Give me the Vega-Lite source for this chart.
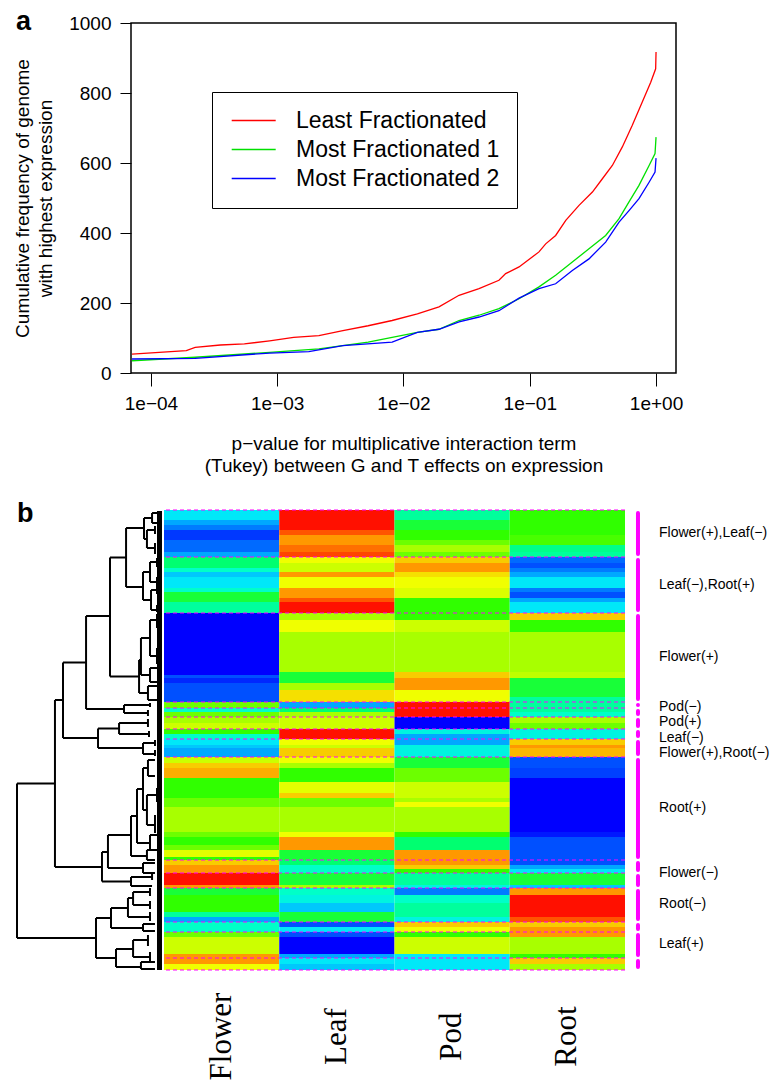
{
  "$schema": "https://vega.github.io/schema/vega-lite/v6.json",
  "background": "white",
  "padding": {"left": 12, "top": 7, "right": 0, "bottom": 0},
  "columns": 1,
  "align": "none",
  "bounds": "full",
  "spacing": 24,
  "config": {
    "view": {"stroke": null},
    "font": "Liberation Sans",
    "axis": {"grid": false, "domain": false, "tickColor": "black", "labelColor": "black", "titleColor": "black", "labelFont": "Liberation Sans", "titleFont": "Liberation Sans"}
  },
  "datasets": {
    "curves": [
      {"s": "Least Fractionated", "p": 0.0000708, "n": 54},
      {"s": "Least Fractionated", "p": 0.0001905, "n": 64},
      {"s": "Least Fractionated", "p": 0.0002239, "n": 73},
      {"s": "Least Fractionated", "p": 0.0003548, "n": 80},
      {"s": "Least Fractionated", "p": 0.0005495, "n": 83},
      {"s": "Least Fractionated", "p": 0.000871, "n": 92},
      {"s": "Least Fractionated", "p": 0.001349, "n": 102},
      {"s": "Least Fractionated", "p": 0.002138, "n": 107},
      {"s": "Least Fractionated", "p": 0.003311, "n": 121},
      {"s": "Least Fractionated", "p": 0.005248, "n": 135},
      {"s": "Least Fractionated", "p": 0.008128, "n": 150},
      {"s": "Least Fractionated", "p": 0.01288, "n": 169},
      {"s": "Least Fractionated", "p": 0.0191, "n": 189},
      {"s": "Least Fractionated", "p": 0.02754, "n": 222},
      {"s": "Least Fractionated", "p": 0.03963, "n": 241},
      {"s": "Least Fractionated", "p": 0.05702, "n": 265},
      {"s": "Least Fractionated", "p": 0.06442, "n": 284},
      {"s": "Least Fractionated", "p": 0.08222, "n": 303},
      {"s": "Least Fractionated", "p": 0.1183, "n": 346},
      {"s": "Least Fractionated", "p": 0.1337, "n": 369},
      {"s": "Least Fractionated", "p": 0.1603, "n": 393},
      {"s": "Least Fractionated", "p": 0.1928, "n": 436},
      {"s": "Least Fractionated", "p": 0.2455, "n": 479},
      {"s": "Least Fractionated", "p": 0.3133, "n": 517},
      {"s": "Least Fractionated", "p": 0.3758, "n": 555},
      {"s": "Least Fractionated", "p": 0.4508, "n": 593},
      {"s": "Least Fractionated", "p": 0.5408, "n": 646},
      {"s": "Least Fractionated", "p": 0.6486, "n": 708},
      {"s": "Least Fractionated", "p": 0.778, "n": 774},
      {"s": "Least Fractionated", "p": 0.9078, "n": 831},
      {"s": "Least Fractionated", "p": 0.9931, "n": 869},
      {"s": "Least Fractionated", "p": 1.0, "n": 917},
      {"s": "Most Fractionated 1", "p": 0.0000708, "n": 35},
      {"s": "Most Fractionated 1", "p": 0.0002239, "n": 45},
      {"s": "Most Fractionated 1", "p": 0.000871, "n": 59},
      {"s": "Most Fractionated 1", "p": 0.002138, "n": 69},
      {"s": "Most Fractionated 1", "p": 0.005248, "n": 88},
      {"s": "Most Fractionated 1", "p": 0.008128, "n": 102},
      {"s": "Most Fractionated 1", "p": 0.01288, "n": 116},
      {"s": "Most Fractionated 1", "p": 0.0191, "n": 125},
      {"s": "Most Fractionated 1", "p": 0.02754, "n": 150},
      {"s": "Most Fractionated 1", "p": 0.03963, "n": 165},
      {"s": "Most Fractionated 1", "p": 0.05702, "n": 184},
      {"s": "Most Fractionated 1", "p": 0.08222, "n": 212},
      {"s": "Most Fractionated 1", "p": 0.1183, "n": 246},
      {"s": "Most Fractionated 1", "p": 0.1603, "n": 279},
      {"s": "Most Fractionated 1", "p": 0.2173, "n": 317},
      {"s": "Most Fractionated 1", "p": 0.2944, "n": 355},
      {"s": "Most Fractionated 1", "p": 0.399, "n": 393},
      {"s": "Most Fractionated 1", "p": 0.5093, "n": 441},
      {"s": "Most Fractionated 1", "p": 0.6109, "n": 489},
      {"s": "Most Fractionated 1", "p": 0.7328, "n": 536},
      {"s": "Most Fractionated 1", "p": 0.881, "n": 593},
      {"s": "Most Fractionated 1", "p": 0.9817, "n": 627},
      {"s": "Most Fractionated 1", "p": 1.0, "n": 674},
      {"s": "Most Fractionated 2", "p": 0.0000708, "n": 40},
      {"s": "Most Fractionated 2", "p": 0.0002239, "n": 42},
      {"s": "Most Fractionated 2", "p": 0.000871, "n": 57},
      {"s": "Most Fractionated 2", "p": 0.001778, "n": 61},
      {"s": "Most Fractionated 2", "p": 0.003311, "n": 78},
      {"s": "Most Fractionated 2", "p": 0.008128, "n": 88},
      {"s": "Most Fractionated 2", "p": 0.01288, "n": 116},
      {"s": "Most Fractionated 2", "p": 0.0191, "n": 125},
      {"s": "Most Fractionated 2", "p": 0.02754, "n": 146},
      {"s": "Most Fractionated 2", "p": 0.03963, "n": 160},
      {"s": "Most Fractionated 2", "p": 0.05702, "n": 178},
      {"s": "Most Fractionated 2", "p": 0.08222, "n": 214},
      {"s": "Most Fractionated 2", "p": 0.1183, "n": 241},
      {"s": "Most Fractionated 2", "p": 0.1603, "n": 255},
      {"s": "Most Fractionated 2", "p": 0.2173, "n": 293},
      {"s": "Most Fractionated 2", "p": 0.2944, "n": 326},
      {"s": "Most Fractionated 2", "p": 0.399, "n": 374},
      {"s": "Most Fractionated 2", "p": 0.5093, "n": 431},
      {"s": "Most Fractionated 2", "p": 0.6109, "n": 464},
      {"s": "Most Fractionated 2", "p": 0.7328, "n": 498},
      {"s": "Most Fractionated 2", "p": 0.881, "n": 545},
      {"s": "Most Fractionated 2", "p": 0.9817, "n": 574},
      {"s": "Most Fractionated 2", "p": 1.0, "n": 614}
    ],
    "heat": [
      {"y0":0,"y1":10,"Flower":3,"Leaf":10,"Pod":4.5,"Root":6},
      {"y0":10,"y1":15,"Flower":2,"Leaf":10,"Pod":5.5,"Root":6},
      {"y0":15,"y1":20,"Flower":1.5,"Leaf":10,"Pod":5.5,"Root":6},
      {"y0":20,"y1":25,"Flower":0.7,"Leaf":9.5,"Pod":6,"Root":6},
      {"y0":25,"y1":30,"Flower":0.7,"Leaf":9,"Pod":6,"Root":6.2},
      {"y0":30,"y1":35,"Flower":1.3,"Leaf":9,"Pod":6.5,"Root":6.2},
      {"y0":35,"y1":42,"Flower":1.3,"Leaf":9.3,"Pod":7,"Root":4.7},
      {"y0":42,"y1":47,"Flower":2,"Leaf":9.6,"Pod":6.5,"Root":4.5},
      {"y0":47,"y1":53,"Flower":5,"Leaf":8,"Pod":8.5,"Root":1.3},
      {"y0":53,"y1":58,"Flower":5,"Leaf":7.5,"Pod":9,"Root":1},
      {"y0":58,"y1":62,"Flower":4,"Leaf":7.5,"Pod":9,"Root":1.5},
      {"y0":62,"y1":67,"Flower":2.5,"Leaf":9,"Pod":8.3,"Root":2},
      {"y0":67,"y1":78,"Flower":3,"Leaf":8,"Pod":8,"Root":3},
      {"y0":78,"y1":82,"Flower":4,"Leaf":9,"Pod":7.7,"Root":1.5},
      {"y0":82,"y1":88,"Flower":5.5,"Leaf":9,"Pod":7.7,"Root":1},
      {"y0":88,"y1":92,"Flower":5.5,"Leaf":9.5,"Pod":6,"Root":2},
      {"y0":92,"y1":103,"Flower":4.5,"Leaf":10,"Pod":6,"Root":3},
      {"y0":103,"y1":110,"Flower":0,"Leaf":7,"Pod":6,"Root":8.5},
      {"y0":110,"y1":122,"Flower":0,"Leaf":8,"Pod":7.5,"Root":6},
      {"y0":122,"y1":162,"Flower":0,"Leaf":7,"Pod":7,"Root":7},
      {"y0":162,"y1":165,"Flower":0,"Leaf":5.5,"Pod":8.5,"Root":7.3},
      {"y0":165,"y1":168,"Flower":1,"Leaf":5.5,"Pod":8.5,"Root":7.3},
      {"y0":168,"y1":173,"Flower":0.5,"Leaf":5.5,"Pod":9,"Root":5.5},
      {"y0":173,"y1":180,"Flower":1,"Leaf":7,"Pod":9,"Root":5.5},
      {"y0":180,"y1":187,"Flower":1,"Leaf":8.3,"Pod":8,"Root":5.5},
      {"y0":187,"y1":192,"Flower":1,"Leaf":8.3,"Pod":8,"Root":4.5},
      {"y0":192,"y1":198,"Flower":6.5,"Leaf":2,"Pod":10,"Root":4.5},
      {"y0":198,"y1":202,"Flower":4,"Leaf":5,"Pod":10,"Root":4.5},
      {"y0":202,"y1":207,"Flower":6.5,"Leaf":7,"Pod":10,"Root":4},
      {"y0":207,"y1":213,"Flower":7,"Leaf":7.5,"Pod":0,"Root":7},
      {"y0":213,"y1":219,"Flower":7.5,"Leaf":7.5,"Pod":0,"Root":6.5},
      {"y0":219,"y1":224,"Flower":6,"Leaf":10,"Pod":3.5,"Root":3.5},
      {"y0":224,"y1":229,"Flower":4,"Leaf":10,"Pod":2,"Root":3.5},
      {"y0":229,"y1":235,"Flower":3,"Leaf":8,"Pod":2,"Root":8.5},
      {"y0":235,"y1":238,"Flower":2.5,"Leaf":7.5,"Pod":3.5,"Root":9},
      {"y0":238,"y1":247,"Flower":2,"Leaf":8.5,"Pod":3.5,"Root":8.7},
      {"y0":247,"y1":253,"Flower":7.5,"Leaf":8,"Pod":5.5,"Root":1},
      {"y0":253,"y1":258,"Flower":8.5,"Leaf":7,"Pod":5.5,"Root":1},
      {"y0":258,"y1":268,"Flower":8.8,"Leaf":6,"Pod":6.5,"Root":0.8},
      {"y0":268,"y1":272,"Flower":6,"Leaf":6,"Pod":6.5,"Root":0},
      {"y0":272,"y1":283,"Flower":6,"Leaf":7.8,"Pod":7.5,"Root":0},
      {"y0":283,"y1":288,"Flower":6,"Leaf":8.5,"Pod":7.5,"Root":0},
      {"y0":288,"y1":292,"Flower":6.5,"Leaf":6.5,"Pod":7,"Root":0},
      {"y0":292,"y1":297,"Flower":6.5,"Leaf":6.5,"Pod":8,"Root":0},
      {"y0":297,"y1":322,"Flower":7,"Leaf":7,"Pod":7,"Root":0},
      {"y0":322,"y1":327,"Flower":6.5,"Leaf":8,"Pod":6,"Root":0.3},
      {"y0":327,"y1":335,"Flower":6,"Leaf":9,"Pod":5,"Root":1},
      {"y0":335,"y1":340,"Flower":6.5,"Leaf":9,"Pod":5,"Root":1},
      {"y0":340,"y1":347,"Flower":7.8,"Leaf":5.5,"Pod":9,"Root":1},
      {"y0":347,"y1":350,"Flower":6,"Leaf":5.5,"Pod":9,"Root":1},
      {"y0":350,"y1":355,"Flower":8.5,"Leaf":5,"Pod":9,"Root":1},
      {"y0":355,"y1":359,"Flower":9,"Leaf":4,"Pod":8.5,"Root":2},
      {"y0":359,"y1":363,"Flower":9,"Leaf":4,"Pod":6,"Root":3},
      {"y0":363,"y1":375,"Flower":10,"Leaf":5.5,"Pod":4.5,"Root":5.5},
      {"y0":375,"y1":378,"Flower":9,"Leaf":7,"Pod":3.5,"Root":2.5},
      {"y0":378,"y1":385,"Flower":5.5,"Leaf":4,"Pod":1.5,"Root":9},
      {"y0":385,"y1":393,"Flower":6,"Leaf":3.5,"Pod":4,"Root":10},
      {"y0":393,"y1":402,"Flower":6,"Leaf":2.5,"Pod":4.5,"Root":10},
      {"y0":402,"y1":407,"Flower":4.5,"Leaf":5.5,"Pod":4.5,"Root":10},
      {"y0":407,"y1":412,"Flower":2,"Leaf":5.5,"Pod":3.5,"Root":9.5},
      {"y0":412,"y1":417,"Flower":4,"Leaf":1,"Pod":8.5,"Root":8.5},
      {"y0":417,"y1":422,"Flower":4,"Leaf":3,"Pod":8,"Root":9},
      {"y0":422,"y1":427,"Flower":6.5,"Leaf":1,"Pod":6,"Root":9},
      {"y0":427,"y1":444,"Flower":7.5,"Leaf":0,"Pod":7.5,"Root":7},
      {"y0":444,"y1":448,"Flower":9,"Leaf":2,"Pod":3,"Root":6},
      {"y0":448,"y1":454,"Flower":9,"Leaf":3,"Pod":3,"Root":8.5},
      {"y0":454,"y1":460,"Flower":8,"Leaf":2.5,"Pod":3,"Root":7}
    ],
    "cuts": [
      {"y":0},{"y":47},{"y":103},{"y":192},{"y":198},{"y":207},{"y":219},{"y":229},{"y":247},{"y":350},{"y":363},{"y":378},{"y":412},{"y":422},{"y":448},{"y":460}
    ],
    "clusters": [
      {"y0":0,"y1":47},{"y0":47,"y1":103},{"y0":103,"y1":192},{"y0":192,"y1":198},{"y0":198,"y1":207},{"y0":207,"y1":219},{"y0":219,"y1":229},{"y0":229,"y1":247},{"y0":247,"y1":350},{"y0":350,"y1":363},{"y0":363,"y1":378},{"y0":378,"y1":412},{"y0":412,"y1":422},{"y0":422,"y1":448},{"y0":448,"y1":460}
    ],
    "labels": [
      {"label":"Flower(+),Leaf(−)","yl":23},
      {"label":"Leaf(−),Root(+)","yl":75},
      {"label":"Flower(+)","yl":147},
      {"label":"Pod(−)","yl":197},
      {"label":"Pod(+)","yl":212},
      {"label":"Leaf(−)","yl":228},
      {"label":"Flower(+),Root(−)","yl":243},
      {"label":"Root(+)","yl":298},
      {"label":"Flower(−)","yl":363},
      {"label":"Root(−)","yl":394},
      {"label":"Leaf(+)","yl":434}
    ],
    "dendro": [
      {"h1":1,"h2":1,"y1":273.5,"y2":428},
      {"h1":1,"h2":0.74,"y1":273.5,"y2":273.5},
      {"h1":1,"h2":0.459,"y1":428,"y2":428},
      {"h1":0.74,"h2":0.74,"y1":190,"y2":357},
      {"h1":0.74,"h2":0.685,"y1":190,"y2":190},
      {"h1":0.74,"h2":0.418,"y1":357,"y2":357},
      {"h1":0.685,"h2":0.685,"y1":152.5,"y2":228},
      {"h1":0.685,"h2":0.527,"y1":152.5,"y2":152.5},
      {"h1":0.685,"h2":0.445,"y1":228,"y2":228},
      {"h1":0.527,"h2":0.527,"y1":106,"y2":199},
      {"h1":0.527,"h2":0.363,"y1":106,"y2":106},
      {"h1":0.527,"h2":0.267,"y1":199,"y2":199},
      {"h1":0.363,"h2":0.363,"y1":47.5,"y2":166.5},
      {"h1":0.363,"h2":0.253,"y1":47.5,"y2":47.5},
      {"h1":0.363,"h2":0.164,"y1":166.5,"y2":166.5},
      {"h1":0.253,"h2":0.253,"y1":18,"y2":77},
      {"h1":0.253,"h2":0.13,"y1":18,"y2":18},
      {"h1":0.253,"h2":0.137,"y1":77,"y2":77},
      {"h1":0.13,"h2":0.13,"y1":8,"y2":29},
      {"h1":0.13,"h2":0.075,"y1":8,"y2":8},
      {"h1":0.075,"h2":0.075,"y1":3,"y2":13},
      {"h1":0.075,"h2":0.024,"y1":3,"y2":3},
      {"h1":0.075,"h2":0.024,"y1":13,"y2":13},
      {"h1":0.13,"h2":0.11,"y1":29,"y2":29},
      {"h1":0.11,"h2":0.11,"y1":20,"y2":38},
      {"h1":0.11,"h2":0.055,"y1":20,"y2":20},
      {"h1":0.11,"h2":0.055,"y1":38,"y2":38},
      {"h1":0.055,"h2":0.055,"y1":16,"y2":24},
      {"h1":0.055,"h2":0.055,"y1":33,"y2":44},
      {"h1":0.137,"h2":0.137,"y1":62,"y2":90},
      {"h1":0.137,"h2":0.089,"y1":62,"y2":62},
      {"h1":0.089,"h2":0.089,"y1":52,"y2":72},
      {"h1":0.089,"h2":0.041,"y1":52,"y2":52},
      {"h1":0.089,"h2":0.041,"y1":72,"y2":72},
      {"h1":0.137,"h2":0.082,"y1":90,"y2":90},
      {"h1":0.082,"h2":0.082,"y1":80,"y2":100},
      {"h1":0.082,"h2":0.041,"y1":80,"y2":80},
      {"h1":0.082,"h2":0.041,"y1":100,"y2":100},
      {"h1":0.041,"h2":0.041,"y1":48,"y2":57},
      {"h1":0.041,"h2":0.041,"y1":67,"y2":77},
      {"h1":0.041,"h2":0.041,"y1":76,"y2":84},
      {"h1":0.041,"h2":0.041,"y1":95,"y2":102},
      {"h1":0.164,"h2":0.164,"y1":150,"y2":183},
      {"h1":0.164,"h2":0.151,"y1":150,"y2":150},
      {"h1":0.151,"h2":0.151,"y1":128,"y2":165},
      {"h1":0.151,"h2":0.089,"y1":128,"y2":128},
      {"h1":0.089,"h2":0.089,"y1":110,"y2":146},
      {"h1":0.089,"h2":0.041,"y1":110,"y2":110},
      {"h1":0.089,"h2":0.041,"y1":146,"y2":146},
      {"h1":0.041,"h2":0.041,"y1":104,"y2":118},
      {"h1":0.041,"h2":0.041,"y1":138,"y2":154},
      {"h1":0.151,"h2":0.089,"y1":165,"y2":165},
      {"h1":0.089,"h2":0.089,"y1":158,"y2":172},
      {"h1":0.089,"h2":0.041,"y1":158,"y2":158},
      {"h1":0.089,"h2":0.041,"y1":172,"y2":172},
      {"h1":0.164,"h2":0.103,"y1":183,"y2":183},
      {"h1":0.103,"h2":0.103,"y1":176,"y2":190},
      {"h1":0.103,"h2":0.041,"y1":176,"y2":176},
      {"h1":0.103,"h2":0.041,"y1":190,"y2":190},
      {"h1":0.267,"h2":0.267,"y1":195,"y2":203},
      {"h1":0.267,"h2":0.089,"y1":195,"y2":195},
      {"h1":0.089,"h2":0.089,"y1":193,"y2":197},
      {"h1":0.267,"h2":0.103,"y1":203,"y2":203},
      {"h1":0.103,"h2":0.103,"y1":200,"y2":206},
      {"h1":0.445,"h2":0.445,"y1":218.5,"y2":238},
      {"h1":0.445,"h2":0.301,"y1":218.5,"y2":218.5},
      {"h1":0.445,"h2":0.137,"y1":238,"y2":238},
      {"h1":0.301,"h2":0.301,"y1":213,"y2":224},
      {"h1":0.301,"h2":0.103,"y1":213,"y2":213},
      {"h1":0.103,"h2":0.103,"y1":209,"y2":217},
      {"h1":0.301,"h2":0.096,"y1":224,"y2":224},
      {"h1":0.096,"h2":0.096,"y1":221,"y2":227},
      {"h1":0.137,"h2":0.137,"y1":233,"y2":244},
      {"h1":0.137,"h2":0.055,"y1":233,"y2":233},
      {"h1":0.137,"h2":0.055,"y1":244,"y2":244},
      {"h1":0.055,"h2":0.055,"y1":230,"y2":236},
      {"h1":0.055,"h2":0.055,"y1":240,"y2":246},
      {"h1":0.418,"h2":0.418,"y1":342,"y2":371.5},
      {"h1":0.418,"h2":0.377,"y1":342,"y2":342},
      {"h1":0.418,"h2":0.219,"y1":371.5,"y2":371.5},
      {"h1":0.219,"h2":0.219,"y1":367,"y2":376},
      {"h1":0.219,"h2":0.075,"y1":367,"y2":367},
      {"h1":0.219,"h2":0.075,"y1":376,"y2":376},
      {"h1":0.075,"h2":0.075,"y1":364,"y2":370},
      {"h1":0.377,"h2":0.377,"y1":325,"y2":358},
      {"h1":0.377,"h2":0.219,"y1":325,"y2":325},
      {"h1":0.377,"h2":0.137,"y1":358,"y2":358},
      {"h1":0.137,"h2":0.137,"y1":353,"y2":363},
      {"h1":0.137,"h2":0.055,"y1":353,"y2":353},
      {"h1":0.137,"h2":0.055,"y1":363,"y2":363},
      {"h1":0.219,"h2":0.219,"y1":306,"y2":346},
      {"h1":0.219,"h2":0.178,"y1":306,"y2":306},
      {"h1":0.219,"h2":0.11,"y1":346,"y2":346},
      {"h1":0.11,"h2":0.11,"y1":340,"y2":350},
      {"h1":0.11,"h2":0.055,"y1":340,"y2":340},
      {"h1":0.11,"h2":0.055,"y1":350,"y2":350},
      {"h1":0.178,"h2":0.178,"y1":279,"y2":333},
      {"h1":0.178,"h2":0.137,"y1":279,"y2":279},
      {"h1":0.178,"h2":0.089,"y1":333,"y2":333},
      {"h1":0.089,"h2":0.089,"y1":325,"y2":340},
      {"h1":0.089,"h2":0.041,"y1":325,"y2":325},
      {"h1":0.089,"h2":0.041,"y1":340,"y2":340},
      {"h1":0.137,"h2":0.137,"y1":258,"y2":300},
      {"h1":0.137,"h2":0.103,"y1":258,"y2":258},
      {"h1":0.103,"h2":0.103,"y1":250,"y2":266},
      {"h1":0.103,"h2":0.055,"y1":250,"y2":250},
      {"h1":0.103,"h2":0.055,"y1":266,"y2":266},
      {"h1":0.137,"h2":0.11,"y1":300,"y2":300},
      {"h1":0.11,"h2":0.11,"y1":285,"y2":315},
      {"h1":0.11,"h2":0.041,"y1":285,"y2":285},
      {"h1":0.11,"h2":0.055,"y1":315,"y2":315},
      {"h1":0.041,"h2":0.041,"y1":278,"y2":292},
      {"h1":0.055,"h2":0.055,"y1":305,"y2":323},
      {"h1":0.459,"h2":0.459,"y1":408,"y2":448},
      {"h1":0.459,"h2":0.356,"y1":408,"y2":408},
      {"h1":0.459,"h2":0.322,"y1":448,"y2":448},
      {"h1":0.356,"h2":0.356,"y1":398,"y2":418},
      {"h1":0.356,"h2":0.24,"y1":398,"y2":398},
      {"h1":0.356,"h2":0.137,"y1":418,"y2":418},
      {"h1":0.137,"h2":0.137,"y1":414,"y2":421},
      {"h1":0.137,"h2":0.055,"y1":414,"y2":414},
      {"h1":0.137,"h2":0.055,"y1":421,"y2":421},
      {"h1":0.24,"h2":0.24,"y1":388,"y2":407},
      {"h1":0.24,"h2":0.205,"y1":388,"y2":388},
      {"h1":0.205,"h2":0.205,"y1":382,"y2":395},
      {"h1":0.205,"h2":0.089,"y1":382,"y2":382},
      {"h1":0.205,"h2":0.089,"y1":395,"y2":395},
      {"h1":0.089,"h2":0.089,"y1":378,"y2":386},
      {"h1":0.089,"h2":0.089,"y1":391,"y2":399},
      {"h1":0.24,"h2":0.089,"y1":407,"y2":407},
      {"h1":0.089,"h2":0.089,"y1":402,"y2":411},
      {"h1":0.322,"h2":0.322,"y1":439,"y2":457},
      {"h1":0.322,"h2":0.205,"y1":439,"y2":439},
      {"h1":0.205,"h2":0.205,"y1":430,"y2":447},
      {"h1":0.205,"h2":0.103,"y1":430,"y2":430},
      {"h1":0.205,"h2":0.089,"y1":447,"y2":447},
      {"h1":0.103,"h2":0.103,"y1":425,"y2":436},
      {"h1":0.089,"h2":0.089,"y1":442,"y2":452},
      {"h1":0.322,"h2":0.151,"y1":457,"y2":457},
      {"h1":0.151,"h2":0.151,"y1":452,"y2":459},
      {"h1":0.151,"h2":0.055,"y1":452,"y2":452},
      {"h1":0.151,"h2":0.055,"y1":459,"y2":459}
    ]
  },
  "concat": [
    {
      "spacing": -6,
      "hconcat": [
        {
          "width": 1,
          "height": 350,
          "data": {"values": []},
          "mark": "point"
        },
        {
          "width": 545,
          "height": 350,
          "view": {"stroke": "black", "strokeWidth": 1.5},
          "layer": [
            {
              "data": {"name": "curves"},
              "mark": {"type": "line", "strokeWidth": 1.3},
              "encoding": {
                "x": {
                  "field": "p", "type": "quantitative",
                  "scale": {"type": "log", "domain": [0.0000695, 1.439], "nice": false},
                  "axis": {
                    "values": [0.0001, 0.001, 0.01, 0.1, 1],
                    "labelExpr": "datum.value >= 0.5 ? '1e+00' : '1e−0' + round(-log(datum.value) / LN10)",
                    "tickSize": 13, "labelPadding": 8, "labelFontSize": 19, "labelFlush": false, "labelOverlap": false,
                    "title": ["p−value for multiplicative interaction term", "(Tukey) between G and T effects on expression"],
                    "titleFontSize": 19, "titleFontWeight": "normal", "titleLineHeight": 22, "titlePadding": 21
                  }
                },
                "y": {
                  "field": "n", "type": "quantitative",
                  "scale": {"domain": [0, 1000], "nice": false},
                  "axis": {
                    "values": [0, 200, 400, 600, 800, 1000], "format": "d",
                    "tickSize": 11, "labelPadding": 9, "labelFontSize": 19, "labelOverlap": false,
                    "title": ["Cumulative frequency of genome", "with highest expression"],
                    "titleFontSize": 19, "titleFontWeight": "normal", "titleLineHeight": 23, "titlePadding": 13
                  }
                },
                "color": {
                  "field": "s", "type": "nominal",
                  "scale": {"domain": ["Least Fractionated", "Most Fractionated 1", "Most Fractionated 2"], "range": ["#ff0000", "#00e000", "#0000ff"]},
                  "legend": {
                    "orient": "none", "legendX": 195, "legendY": 69, "title": null,
                    "strokeColor": "black", "fillColor": "white", "padding": 17,
                    "symbolType": "M-1.6,0H6.4", "symbolSize": 121, "symbolStrokeWidth": 1.5,
                    "labelFontSize": 23, "labelFont": "Liberation Sans", "labelOffset": 44, "rowPadding": 5, "labelLimit": 400, "labelColor": "black"
                  }
                }
              }
            },
            {
              "data": {"values": [{"panel": "a"}]},
              "mark": {"type": "text", "fontSize": 27, "fontWeight": "bold", "align": "left", "baseline": "alphabetic", "font": "Liberation Sans", "color": "black"},
              "encoding": {
                "x": {"datum": 0.00000853, "type": "quantitative"},
                "y": {"datum": 980, "type": "quantitative"},
                "text": {"field": "panel"}
              }
            }
          ]
        }
      ]
    },
    {
      "spacing": 0,
      "hconcat": [
        {
          "width": 146,
          "height": 460,
          "layer": [
            {
              "data": {"name": "dendro"},
              "mark": {"type": "rule", "strokeWidth": 2, "color": "black"},
              "encoding": {
                "x": {"field": "h1", "type": "quantitative", "scale": {"domain": [0, 1], "reverse": true, "nice": false}, "axis": null},
                "x2": {"field": "h2"},
                "y": {"field": "y1", "type": "quantitative", "scale": {"domain": [0, 460], "reverse": true, "nice": false}, "axis": null},
                "y2": {"field": "y2"}
              }
            },
            {
              "data": {"values": [{"h": 0.024, "y1": 1, "y2": 460}]},
              "mark": {"type": "rule", "strokeWidth": 5, "color": "black"},
              "encoding": {
                "x": {"field": "h", "type": "quantitative"},
                "y": {"field": "y1", "type": "quantitative"},
                "y2": {"field": "y2"}
              }
            },
            {
              "data": {"values": [{"panel": "b"}]},
              "mark": {"type": "text", "fontSize": 27, "fontWeight": "bold", "align": "left", "baseline": "alphabetic", "font": "Liberation Sans", "color": "black"},
              "encoding": {
                "x": {"datum": 1, "type": "quantitative"},
                "y": {"datum": 12, "type": "quantitative"},
                "text": {"field": "panel"}
              }
            }
          ]
        },
        {
          "width": 461,
          "height": 460,
          "layer": [
            {
              "data": {"name": "heat"},
              "transform": [{"fold": ["Flower", "Leaf", "Pod", "Root"], "as": ["tissue", "value"]}],
              "mark": {"type": "rect"},
              "encoding": {
                "x": {
                  "field": "tissue", "type": "nominal", "sort": null,
                  "scale": {"domain": ["Flower", "Leaf", "Pod", "Root"], "paddingInner": 0, "paddingOuter": 0},
                  "axis": {"orient": "bottom", "title": null, "labelAngle": 270, "labelAlign": "center", "labelBaseline": "middle", "labelPadding": 66, "ticks": false, "tickSize": 0, "domain": false, "labelFont": "Liberation Serif", "labelFontSize": 31, "labelColor": "black"}
                },
                "y": {"field": "y0", "type": "quantitative", "scale": {"domain": [0, 460], "reverse": true, "nice": false}, "axis": null},
                "y2": {"field": "y1"},
                "color": {
                  "field": "value", "type": "quantitative",
                  "scale": {"domain": [0, 1, 2, 3, 4, 5, 6, 7, 8, 9, 10], "range": ["#0000ff", "#0050ff", "#00a8ff", "#00e8f8", "#00ffc8", "#00ff70", "#30ff00", "#a8ff00", "#f0ff00", "#ff9800", "#ff1000"], "interpolate": "rgb"},
                  "legend": null
                }
              }
            },
            {
              "data": {"name": "cuts"},
              "mark": {"type": "rule", "color": "#ff00ff", "strokeWidth": 1.2, "strokeDash": [4, 3]},
              "encoding": {"y": {"field": "y", "type": "quantitative"}}
            }
          ]
        },
        {
          "width": 148,
          "height": 460,
          "layer": [
            {
              "data": {"name": "clusters"},
              "mark": {"type": "rule", "color": "#ff00ff", "strokeWidth": 4, "strokeCap": "round", "yOffset": 3, "y2Offset": -3},
              "encoding": {
                "x": {"datum": 0.081, "type": "quantitative", "scale": {"domain": [0, 1], "nice": false}, "axis": null},
                "y": {"field": "y0", "type": "quantitative", "scale": {"domain": [0, 460], "reverse": true, "nice": false}, "axis": null},
                "y2": {"field": "y1"}
              }
            },
            {
              "data": {"name": "labels"},
              "mark": {"type": "text", "align": "left", "baseline": "middle", "fontSize": 14, "font": "Liberation Sans", "color": "black"},
              "encoding": {
                "x": {"datum": 0.223, "type": "quantitative"},
                "y": {"field": "yl", "type": "quantitative"},
                "text": {"field": "label"}
              }
            }
          ]
        }
      ]
    }
  ]
}
